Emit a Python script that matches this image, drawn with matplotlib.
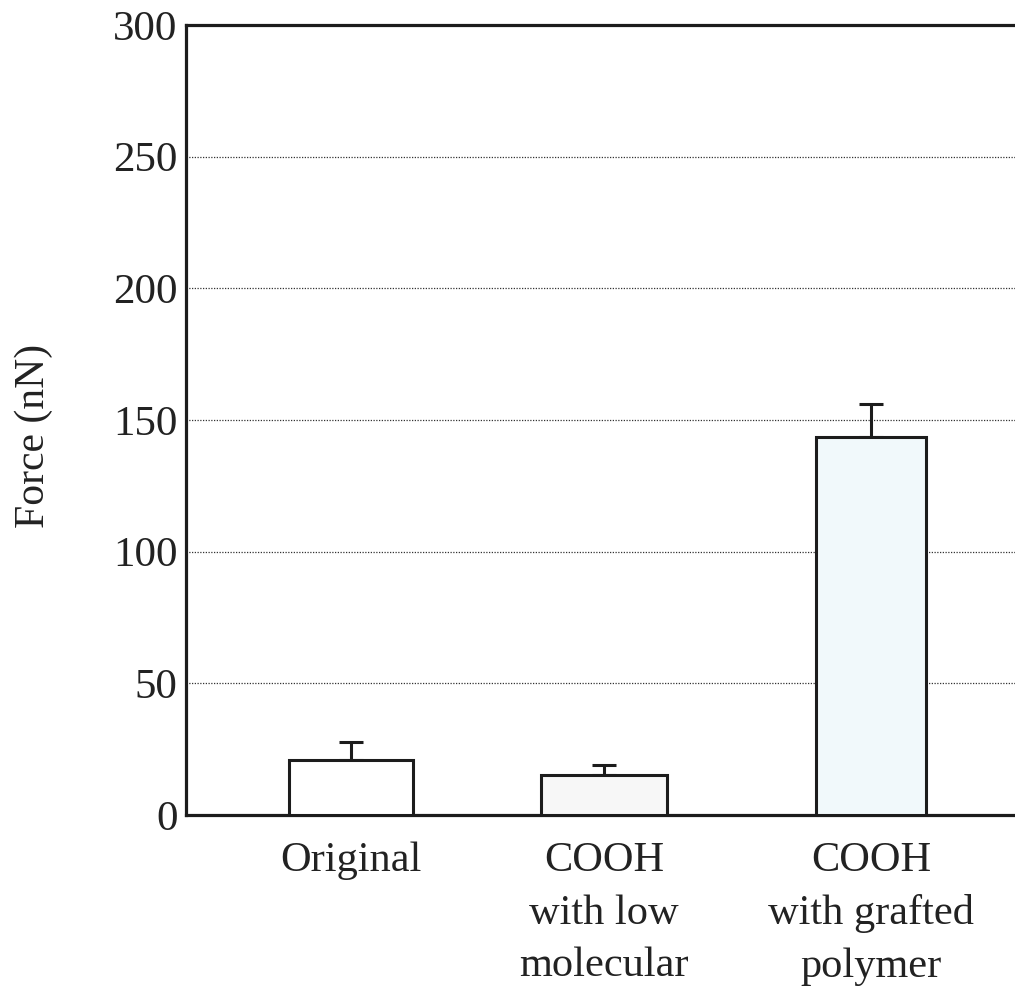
import numpy as np
import matplotlib
matplotlib.use("Agg")
import matplotlib.pyplot as plt

# ---------------- Data ----------------
categories = ["Original", "COOH\nwith low\nmolecular", "COOH\nwith grafted\npolymer"]
force = [20.9, 15.2, 143.6]       # nN
force_err = [6.8, 3.8, 12.5]      # upper error only
y_ticks = [0, 50, 100, 150, 200, 250, 300]

# ---------------- Layout ----------------
bar_x = [0.0, 0.973, 2.0]
bar_w = [0.48, 0.485, 0.42]
bar_fill = ["#ffffff", "#f7f7f7", "#f1f9fb"]
ink = "#1c1c1c"

plt.rcParams["font.family"] = ["Liberation Serif", "DejaVu Serif"]

fig = plt.figure(figsize=(10.15, 9.9), dpi=100)
ax = fig.add_axes([186 / 1015, 175 / 990, 841 / 1015, 790 / 990])

ax.bar(bar_x, force, width=bar_w, color=bar_fill, edgecolor=ink,
       linewidth=2.2, zorder=3)
ax.errorbar(bar_x, force, yerr=[[0, 0, 0], force_err], fmt="none",
            ecolor=ink, elinewidth=2.2, capsize=8.6, capthick=2.2, zorder=2)

ax.set_xlim(-0.635, 2.6)
ax.set_ylim(0, 300)
ax.set_yticks(y_ticks)
ax.set_xticks(bar_x)
ax.set_xticklabels(categories, fontsize=30.5, linespacing=1.48, va="top")
ax.tick_params(axis="both", length=0, labelsize=31, colors="#222222")
ax.tick_params(axis="y", pad=6)
ax.tick_params(axis="x", pad=19, labelsize=30.5)

ax.grid(axis="y", linestyle=(0, (1, 1.2)), color="#333333", linewidth=0.9, zorder=0)
ax.set_axisbelow(True)

for side in ["left", "top", "bottom"]:
    ax.spines[side].set_linewidth(2.3)
    ax.spines[side].set_color(ink)
ax.spines["right"].set_visible(False)

ax.set_ylabel("Force (nN)", fontsize=30, color="#222222")
ax.yaxis.set_label_coords(-0.158, 0.48)

fig.savefig("out.png", dpi=100)
